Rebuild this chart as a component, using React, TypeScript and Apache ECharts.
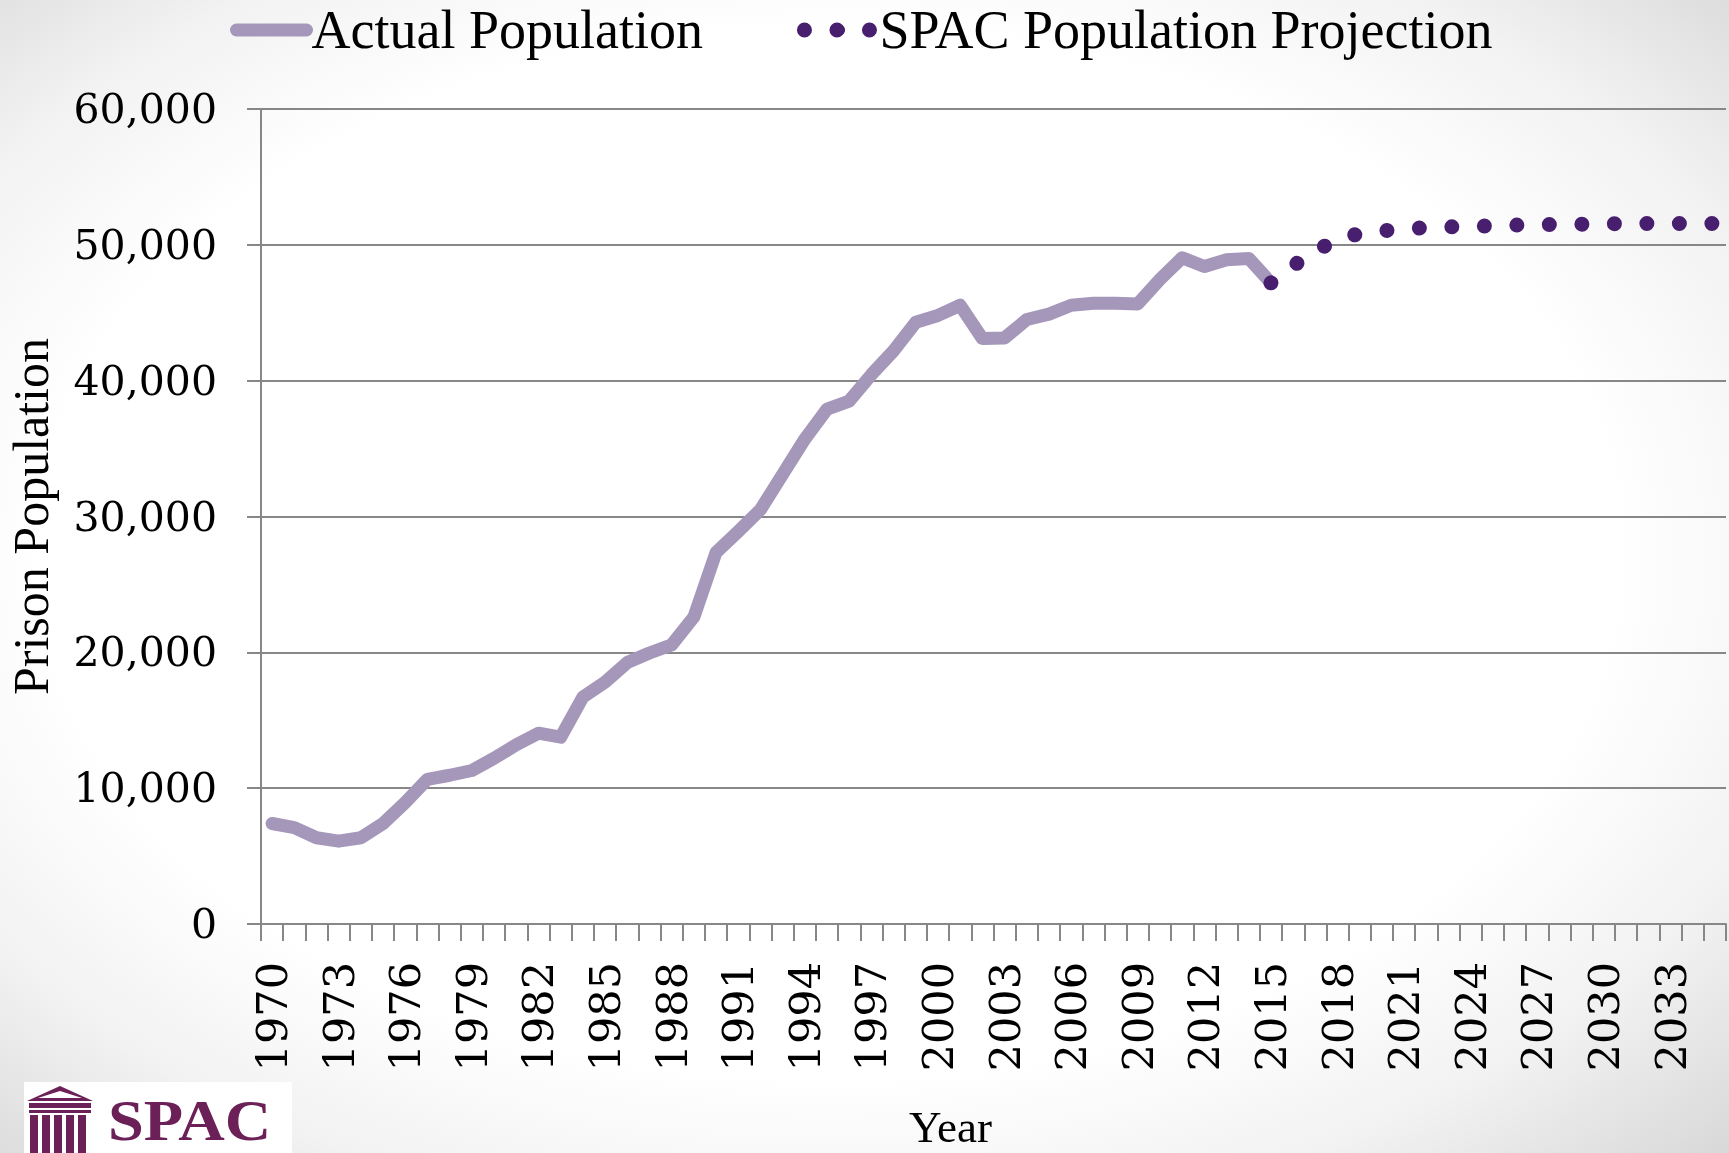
import React, { useEffect, useRef } from "react";
import * as echarts from "echarts";

const years: string[] = [];
for (let y = 1970; y <= 2035; y++) years.push(String(y));

// Actual prison population 1970–2015
const actualValues: number[] = [
  7400, 7100, 6350, 6100, 6350, 7400, 8950, 10650, 10950, 11300,
  12200, 13200, 14050, 13750, 16700, 17800, 19250, 19950, 20550, 22600,
  27350, 28900, 30500, 33100, 35700, 37900, 38500, 40450, 42200, 44300,
  44800, 45550, 43100, 43150, 44500, 44900, 45550, 45700, 45700, 45650,
  47450, 49050, 48400, 48900, 49000, 47200,
];

// SPAC projection 2015–2035
const projectionValues: number[] = [
  47200, 48450, 49580, 50360, 50850, 51020, 51170, 51270, 51320, 51350,
  51400, 51450, 51480, 51500, 51520, 51550, 51570, 51570, 51570, 51570, 51570,
];

const yTicks = { min: 0, max: 60000, interval: 10000 };

const actualSeries = years.map((_, i) => (i < actualValues.length ? actualValues[i] : null));
const projStart = years.indexOf("2015");
const projectionSeries = years.map((_, i) =>
  i >= projStart && i - projStart < projectionValues.length ? projectionValues[i - projStart] : null
);

const AXIS_GRAY = "#878787";
const LAVENDER = "#A597BA";
const DARK_PURPLE = "#481E6E";
const LOGO = "#6B2158";

export default function App() {
  const ref = useRef<HTMLDivElement>(null);

  useEffect(() => {
    if (!ref.current) return;
    const chart = echarts.init(ref.current, undefined, { renderer: "svg" });
    const columns = [30, 42, 54, 66, 78].map((x) => ({
      type: "rect",
      shape: { x, y: 1115, width: 8, height: 40 },
      style: { fill: LOGO },
    }));
    chart.setOption({
      animation: false,
      backgroundColor: "transparent",
      grid: {
        left: 261,
        right: 3,
        top: 109,
        bottom: 229,
        containLabel: false,
        outerBoundsMode: "none",
      },
      legend: {
        left: 230,
        top: 0,
        padding: 0,
        itemGap: 94,
        itemWidth: 70,
        itemHeight: 14,
        lineStyle: { width: "inherit", cap: "round" },
        textStyle: {
          fontFamily: "Liberation Serif",
          fontSize: 54,
          color: "#000",
          lineHeight: 60,
        },
        data: ["Actual Population", "SPAC Population Projection"],
      },
      xAxis: {
        type: "category",
        data: years,
        boundaryGap: true,
        name: "Year",
        nameLocation: "middle",
        nameGap: 184,
        nameTextStyle: {
          fontFamily: "Liberation Serif",
          fontSize: 45,
          color: "#000",
          lineHeight: 38,
          padding: [0, 86, 0, 0],
        },
        axisLine: { show: true, lineStyle: { color: AXIS_GRAY, width: 2 } },
        axisTick: { show: true, interval: 0, length: 17, lineStyle: { color: AXIS_GRAY, width: 2 } },
        axisLabel: {
          interval: 2,
          rotate: 90,
          margin: 38,
          fontFamily: "DejaVu Serif",
          fontSize: 43,
          color: "#000",
        },
        splitLine: { show: false },
      },
      yAxis: {
        type: "value",
        min: yTicks.min,
        max: yTicks.max,
        interval: yTicks.interval,
        name: "Prison Population",
        nameLocation: "middle",
        nameRotate: 90,
        nameGap: 202,
        nameTextStyle: {
          fontFamily: "Liberation Serif",
          fontSize: 50,
          color: "#000",
          lineHeight: 56,
        },
        axisLine: { show: true, lineStyle: { color: AXIS_GRAY, width: 2 } },
        axisTick: { show: true, length: 14, lineStyle: { color: AXIS_GRAY, width: 2 } },
        axisLabel: {
          margin: 44,
          fontFamily: "DejaVu Serif",
          fontSize: 41,
          color: "#000",
          formatter: (v: number) => v.toLocaleString("en-US"),
        },
        splitLine: { show: true, lineStyle: { color: AXIS_GRAY, width: 2 } },
      },
      series: [
        {
          name: "Actual Population",
          type: "line",
          data: actualSeries,
          symbol: "none",
          connectNulls: false,
          lineStyle: { color: LAVENDER, width: 13, cap: "round", join: "round" },
          itemStyle: { color: LAVENDER },
        },
        {
          name: "SPAC Population Projection",
          type: "line",
          data: projectionSeries,
          symbol: "none",
          lineStyle: {
            color: DARK_PURPLE,
            width: 15,
            type: [0.01, 32.5],
            cap: "round",
          },
          itemStyle: { color: DARK_PURPLE },
        },
      ],
      graphic: [
        {
          type: "group",
          children: [
            { type: "rect", shape: { x: 24, y: 1082, width: 268, height: 71 }, style: { fill: "#fff" } },
            { type: "polygon", shape: { points: [[27, 1101], [60, 1086], [93, 1101]] }, style: { fill: LOGO } },
            { type: "polygon", shape: { points: [[38, 1098], [60, 1091], [82, 1098]] }, style: { fill: "#fff" } },
            { type: "rect", shape: { x: 29, y: 1103, width: 62, height: 5 }, style: { fill: LOGO } },
            { type: "rect", shape: { x: 29, y: 1110, width: 62, height: 3 }, style: { fill: LOGO } },
            ...columns,
            {
              type: "text",
              x: 108,
              y: 1091,
              scaleX: 1.15,
              style: {
                text: "SPAC",
                fontFamily: "Liberation Serif",
                fontWeight: "bold",
                fontSize: 56,
                lineHeight: 60,
                fill: LOGO,
                verticalAlign: "top",
              },
            },
          ],
        },
      ],
    });
    return () => chart.dispose();
  }, []);

  return (
    <div
      ref={ref}
      style={{
        position: "fixed",
        left: 0,
        top: 0,
        width: 1729,
        height: 1153,
        background:
          "radial-gradient(ellipse farthest-corner at 48% 48%, #ffffff 62%, #f2f2f2 80%, #d8d8d8 100%)",
      }}
    />
  );
}
